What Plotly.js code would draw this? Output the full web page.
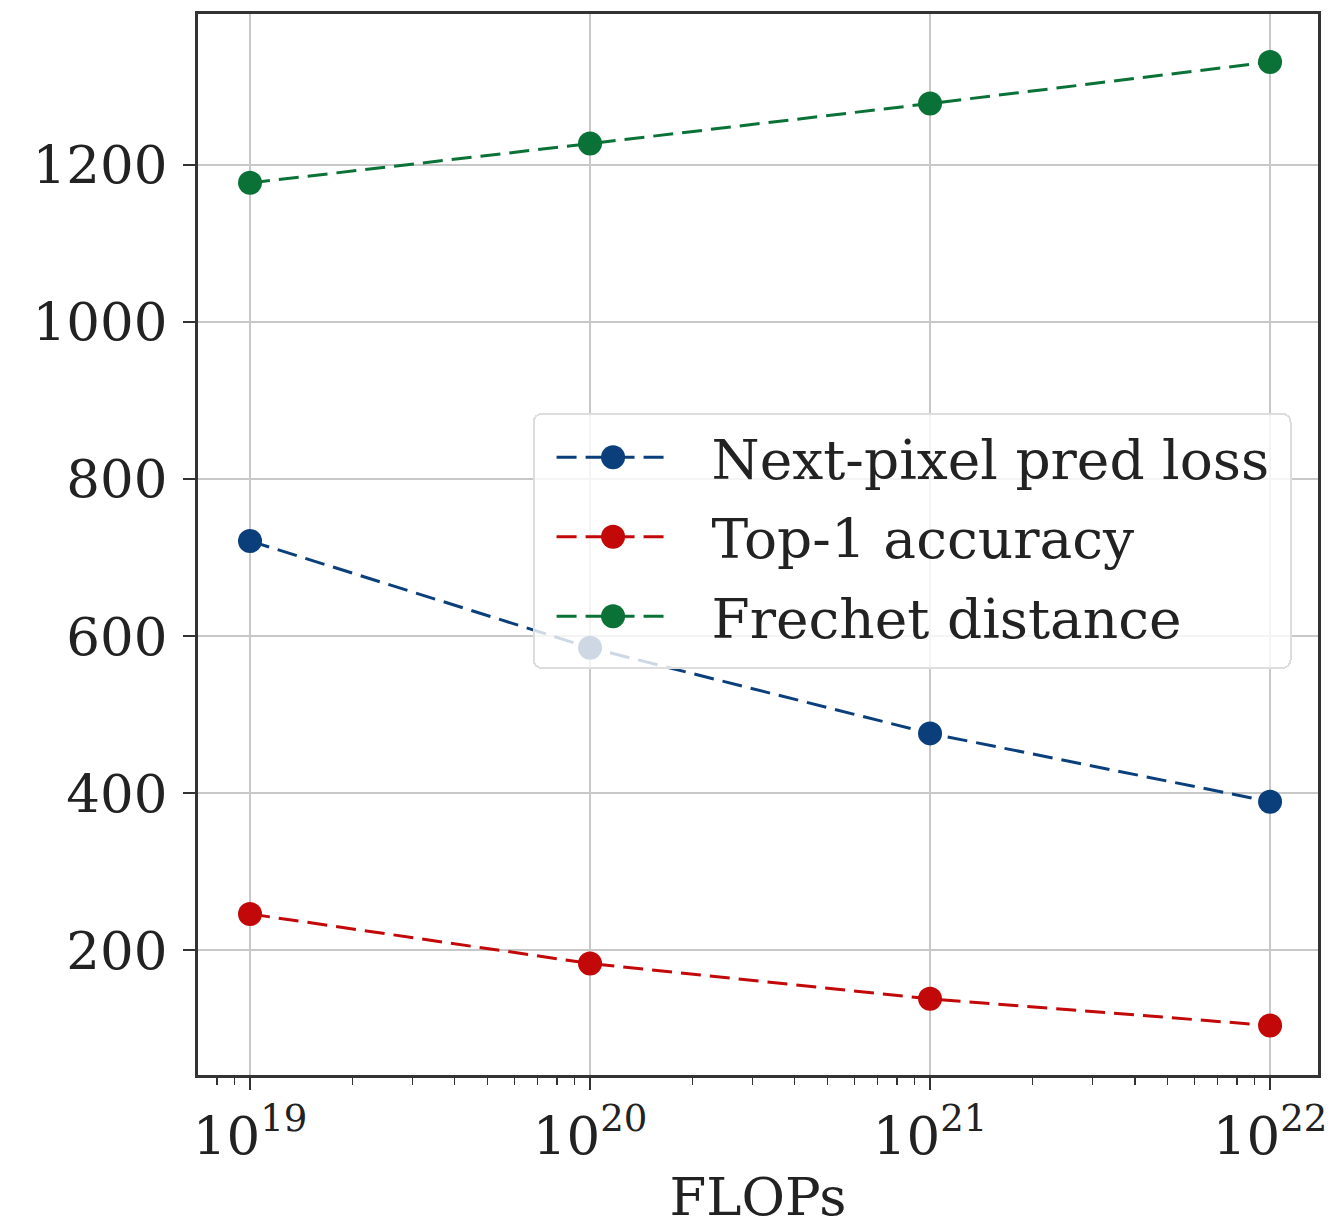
<!DOCTYPE html>
<html>
<head>
<meta charset="utf-8">
<script src="https://cdn.plot.ly/plotly-3.0.1.min.js"></script>
<style>html,body{margin:0;padding:0;background:#fff}#chart{width:1338px;height:1227px}</style>
</head>
<body>
<div id="chart"></div>
<script>
const flops = [1e19, 1e20, 1e21, 1e22];
const seriesNames = ["Next-pixel pred loss", "Top-1 accuracy", "Frechet distance"];
const nextPixelLoss = [721, 585, 476, 389];
const top1Accuracy = [246, 183, 138, 104];
const frechetDistance = [1177, 1227, 1278, 1331];
const xTickVals = [1e19, 1e20, 1e21, 1e22];
const xTickText = ["10<sup>19</sup>", "10<sup>20</sup>", "10<sup>21</sup>", "10<sup>22</sup>"];
const colors = ["#0a3f7c", "#c20808", "#0a7236"];

const values = [nextPixelLoss, top1Accuracy, frechetDistance];
const traces = values.map((v, i) => ({
  x: flops, y: v, name: seriesNames[i], type: "scatter", mode: "lines+markers",
  legendgroup: "g" + i,
  line: {color: colors[i], width: 3, dash: "20px,9px"},
  marker: {color: colors[i], size: 24}
}));

const font = {family: "DejaVu Serif, serif", size: 53, color: "#222"};
const layout = {
  width: 1338, height: 1227,
  margin: {l: 198, r: 20, t: 14, b: 152},
  paper_bgcolor: "#fff", plot_bgcolor: "#fff",
  font: font,
  showlegend: true,
  legend: {
    x: 0.963, xanchor: "right", y: 0.624, yanchor: "top",
    traceorder: "grouped", tracegroupgap: 5,
    itemwidth: 167,
    bgcolor: "rgba(255,255,255,0.8)", bordercolor: "#dddddd", borderwidth: 2,
    font: {family: "DejaVu Serif, serif", size: 55, color: "#222"}
  },
  xaxis: {
    type: "log", range: [18.847, 22.141],
    tickvals: xTickVals, ticktext: xTickText,
    ticks: "outside", ticklen: 12, tickwidth: 2, tickcolor: "#333",
    showgrid: true, gridcolor: "#c8c8c8", gridwidth: 2,
    showline: true, mirror: true, linecolor: "#333", linewidth: 3,
    zeroline: false,
    minor: {ticks: "outside", ticklen: 7, tickwidth: 1.5, tickcolor: "#333", dtick: "D1", showgrid: false},
    title: {text: "FLOPs", font: font, standoff: 14}
  },
  yaxis: {
    range: [41, 1392], dtick: 200, tick0: 0,
    ticks: "outside", ticklen: 12, tickwidth: 2, tickcolor: "#333",
    ticklabelstandoff: 5,
    showgrid: true, gridcolor: "#c8c8c8", gridwidth: 2,
    showline: true, mirror: true, linecolor: "#333", linewidth: 3,
    zeroline: false
  }
};

function styleLegend() {
  const r = 12;
  document.querySelectorAll("#chart .legend .traces").forEach(t => {
    t.querySelectorAll(".legendlines path").forEach(p => p.setAttribute("d", "M22,0h113"));
    t.querySelectorAll(".legendsymbols path.scatterpts").forEach(p => {
      p.setAttribute("d", `M${r},0A${r},${r} 0 1,1 0,-${r}A${r},${r} 0 0,1 ${r},0Z`);
      p.setAttribute("transform", "translate(78.5,0)");
    });
  });
  const bg = document.querySelector("#chart .legend rect.bg");
  if (bg) {
    bg.setAttribute("width", parseFloat(bg.getAttribute("width")) + 15);
    bg.setAttribute("height", parseFloat(bg.getAttribute("height")) + 8);
    bg.setAttribute("rx", 8); bg.setAttribute("ry", 8);
  }
}
Plotly.newPlot("chart", traces, layout, {displayModeBar: false, staticPlot: true}).then(styleLegend);
</script>
</body>
</html>
